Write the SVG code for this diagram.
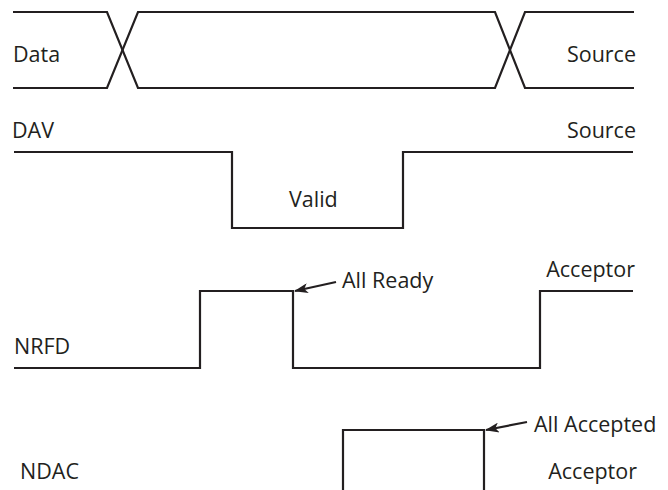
<svg xmlns="http://www.w3.org/2000/svg" width="668" height="490" viewBox="0 0 668 490">
<defs>
<style>
.sig{fill:none;stroke:#231f20;stroke-width:2.2;stroke-linejoin:miter}
.lbl{font-family:"Open Sans","Liberation Sans",sans-serif;font-size:21.5px;fill:#231f20}
.ptr{fill:none;stroke:#231f20;stroke-width:2.2}
</style>
<marker id="ah" viewBox="0 0 14 10" refX="13" refY="5" markerWidth="14" markerHeight="10" markerUnits="userSpaceOnUse" orient="auto">
<path d="M0,0 L14,5 L0,10 L3.5,5 Z" fill="#231f20"/>
</marker>
</defs>
<g id="connectors">
<path id="data-top" class="sig" d="M13,12 H107 L138,88 H495 L525,12 H634"/>
<path id="data-bot" class="sig" d="M13,88 H107 L138,12 H495 L525,88 H634"/>
<path id="dav" class="sig" d="M14,152 H232 V228 H403 V152 H633"/>
<path id="nrfd" class="sig" d="M14,368 H200 V291 H293 V368 H540 V291 H633"/>
<path id="ndac" class="sig" d="M343,490 V430 H484 V490"/>
<line class="ptr" x1="336" y1="282" x2="295" y2="291" marker-end="url(#ah)"/>
<line class="ptr" x1="527" y1="422" x2="486" y2="430" marker-end="url(#ah)"/>
</g>
<g id="data"><text class="lbl" x="13" y="62">Data</text><text class="lbl" x="636" y="62" text-anchor="end">Source</text></g>
<g id="dav-labels"><text class="lbl" x="12" y="138">DAV</text><text class="lbl" x="636" y="138" text-anchor="end">Source</text><text class="lbl" x="289" y="207">Valid</text></g>
<g id="nrfd-labels"><text class="lbl" x="14" y="354">NRFD</text><text class="lbl" x="342" y="288">All Ready</text><text class="lbl" x="635" y="277" text-anchor="end">Acceptor</text></g>
<g id="ndac-labels"><text class="lbl" x="20" y="479">NDAC</text><text class="lbl" x="534" y="432">All Accepted</text><text class="lbl" x="637" y="479" text-anchor="end">Acceptor</text></g>
</svg>
